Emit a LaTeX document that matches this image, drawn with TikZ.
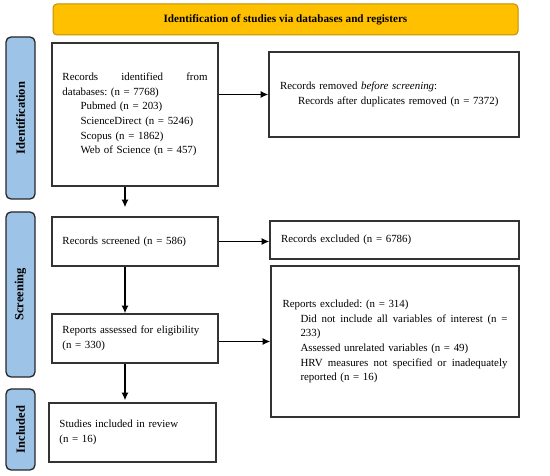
\documentclass[tikz,border=0pt]{standalone}
\usepackage{fontspec}
\setmainfont{Liberation Serif}
\usepackage{xcolor}
\usetikzlibrary{positioning,calc,arrows.meta}
\definecolor{bannerfill}{HTML}{FFC000}
\definecolor{bannerdraw}{HTML}{BF9000}
\definecolor{phasefill}{HTML}{9DC3E6}
\definecolor{boxdraw}{HTML}{333333}
\tikzset{
    flowbox/.style={draw=boxdraw, line width=1.6pt, inner sep=0pt, align=left, font=\fontsize{10.9}{14.7}\selectfont},
    phasebox/.style={draw=black!85, fill=phasefill, rounded corners=5pt, line width=1.3pt, rotate=90, inner sep=0pt, font=\fontsize{12.5}{14}\selectfont\bfseries},
    flowarrow/.style={line width=1.3pt, draw=black, -{Latex[length=7.5pt,width=7pt]}}
}
\newcommand{\itemind}{\hspace*{18pt}}
\frenchspacing

\begin{document}
\begin{tikzpicture}[x=1pt, y=-1pt]
    \useasboundingbox (0,0) rectangle (550,476);
    % banner and phases
    \node[draw=bannerdraw, fill=bannerfill, rounded corners=4pt, line width=1pt, minimum width=465pt, minimum height=31pt, font=\fontsize{11.2}{13}\selectfont\bfseries] (banner) at (285.5,19.5) {Identification of studies via databases and registers};
    \node[phasebox, minimum width=162pt, minimum height=29pt] (phaseid) at (20.5,118) {Identification};
    \node[phasebox, minimum width=165pt, minimum height=29pt] (phasescr) at (20.5,294.5) {Screening};
    \node[phasebox, minimum width=81pt, minimum height=29pt] (phaseinc) at (20.5,429.5) {Included};
    % left column
    \node[flowbox, minimum width=166pt, minimum height=143pt, text width=145pt] (ident) at (135,114.5) {Records\hfill identified\hfill from\\
        databases: (n = 7768)\\
        \itemind Pubmed (n = 203)\\
        \itemind ScienceDirect (n = 5246)\\
        \itemind Scopus (n = 1862)\\
        \itemind Web of Science (n = 457)};
    \node[flowbox, minimum width=166pt, minimum height=49pt, text width=145pt] (screened) at (135,241.5) {Records screened (n = 586)};
    \node[flowbox, minimum width=166pt, minimum height=49pt, text width=145pt] (assessed) at (135,338.5) {Reports assessed for eligibility\\(n = 330)};
    \node[flowbox, minimum width=167pt, minimum height=59pt, text width=146pt] (included) at (132.5,432.5) {Studies included in review\\(n = 16)};
    % right column
    \node[flowbox, minimum width=250pt, minimum height=85pt, text width=228pt] (removed) at (394,94.5) {Records removed \textit{before screening}:\\
        \itemind Records after duplicates removed (n = 7372)};
    \node[flowbox, minimum width=249pt, minimum height=38pt, text width=227pt] (excluded) at (394.5,240) {Records excluded (n = 6786)};
    \node[flowbox, minimum width=248pt, minimum height=151pt, text width=225pt] (repexcl) at (395,341.5) {Reports excluded: (n = 314)\\
        \itemind Did\hfill not\hfill include\hfill all\hfill variables\hfill of\hfill interest\hfill (n\hfill =\\
        \itemind 233)\\
        \itemind Assessed unrelated variables (n = 49)\\
        \itemind HRV\hfill measures\hfill not\hfill specified\hfill or\hfill inadequately\\
        \itemind reported (n = 16)};
    % arrows
    \draw[flowarrow] (ident.east |- removed.west) -- (removed.west);
    \draw[flowarrow] (screened.east) -- (screened.east -| excluded.west);
    \draw[flowarrow] (repexcl.west -| assessed.east) -- (repexcl.west);
    \draw[flowarrow, shorten >=9pt] ([xshift=-10pt]ident.south) -- ([xshift=-10pt]ident.south |- screened.north);
    \draw[flowarrow] ([xshift=-10pt]screened.south) -- ([xshift=-10pt]screened.south |- assessed.north);
    \draw[flowarrow, shorten >=2pt] ([xshift=-10pt]assessed.south) -- ([xshift=-10pt]assessed.south |- included.north);
\end{tikzpicture}
\end{document}
